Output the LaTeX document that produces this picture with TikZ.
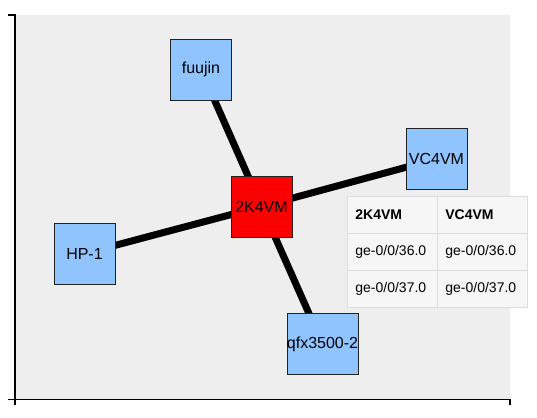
\documentclass[tikz,border=0pt]{standalone}
\usepackage{fontspec}
\setmainfont{Liberation Sans}
\usetikzlibrary{positioning,matrix}
\definecolor{tpfundo}{HTML}{EEEEEE}
\definecolor{tpazul}{HTML}{90C4FF}
\definecolor{tpvermelho}{HTML}{FF0000}
\definecolor{tpborda}{HTML}{222222}
\definecolor{tpcelula}{HTML}{F6F6F6}
\definecolor{tpgrade}{HTML}{DDDDDD}
\pgfdeclarelayer{fundo}
\pgfdeclarelayer{ligacoes}
\pgfsetlayers{fundo,ligacoes,main}
\tikzset{
  tpno/.style={draw=tpborda, fill=tpazul, minimum size=61pt, inner sep=0pt,
               font=\fontsize{16}{18}\selectfont},
  tpcentro/.style={tpno, fill=tpvermelho},
  tplink/.style={line width=7pt, draw=black},
  tpeixo/.style={line width=1.5pt, draw=black},
  tpcel/.style={draw=tpgrade, fill=tpcelula, text width=74pt, inner xsep=8pt,
                minimum height=37pt, align=left, font=\fontsize{14}{16}\selectfont},
}
\begin{document}
\begin{tikzpicture}[x=1pt, y=-1pt]
  \useasboundingbox (0,0) rectangle (537,417);
  % ---------------- area do grafico ----------------
  \begin{pgfonlayer}{fundo}
    \fill[tpfundo] (15,15) rectangle (510,399.5);
    \draw[tpeixo] (8,15) -- (15,15) -- (15,405);
    \draw[tpeixo] (8,399.5) -- (510,399.5) -- (510,405);
  \end{pgfonlayer}
  % ---------------- nos ----------------
  \node[tpcentro] (k2) at (261.5,206.5) {2K4VM};
  \node[tpno] (fuujin) at (201,69.5) {fuujin};
  \node[tpno] (vc4) at (436.5,159) {VC4VM};
  \node[tpno] (hp1) at (84.5,253.5) {HP-1};
  \node[tpno] (qfx) at (322.5,344) {qfx3500-2};
  % ---------------- ligacoes ----------------
  \begin{pgfonlayer}{ligacoes}
    \foreach \n in {fuujin,vc4,hp1,qfx} {\draw[tplink] (k2.center) -- (\n.center);}
  \end{pgfonlayer}
  % ---------------- tabela de interfaces ----------------
  \matrix[matrix of nodes, anchor=north west, inner sep=0pt,
          column sep=-0.4pt, row sep=-0.4pt,
          nodes={tpcel}] (tab) at (347,196) {
    |[font=\fontsize{14}{16}\selectfont\bfseries]| 2K4VM & |[font=\fontsize{14}{16}\selectfont\bfseries]| VC4VM \\
    ge-0/0/36.0 & ge-0/0/36.0 \\
    ge-0/0/37.0 & ge-0/0/37.0 \\
  };
\end{tikzpicture}
\end{document}
